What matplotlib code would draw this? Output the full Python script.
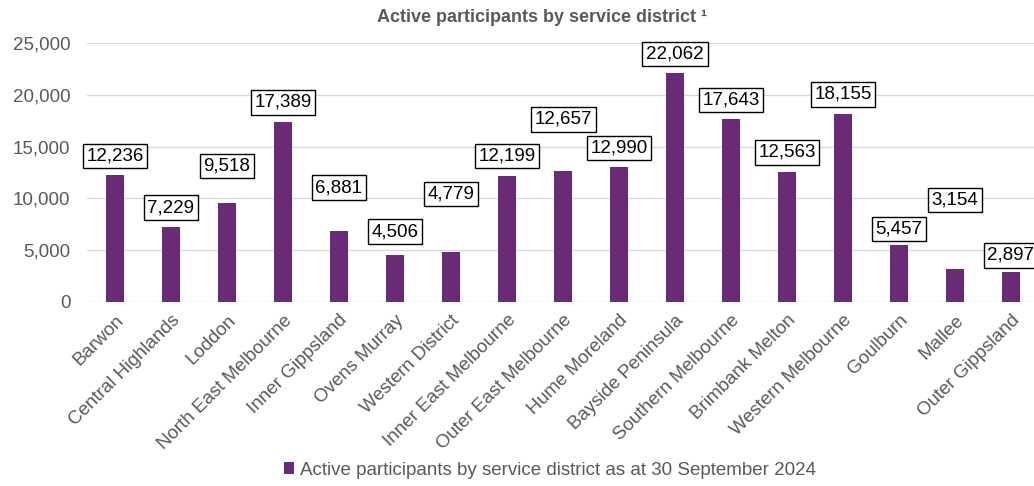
import matplotlib.pyplot as plt
import numpy as np

plt.rcParams['font.family'] = ['Liberation Sans', 'DejaVu Sans']

districts = ['Barwon', 'Central Highlands', 'Loddon', 'North East Melbourne',
             'Inner Gippsland', 'Ovens Murray', 'Western District',
             'Inner East Melbourne', 'Outer East Melbourne', 'Hume Moreland',
             'Bayside Peninsula', 'Southern Melbourne', 'Brimbank Melton',
             'Western Melbourne', 'Goulburn', 'Mallee', 'Outer Gippsland']
participants = [12236, 7229, 9518, 17389, 6881, 4506, 4779, 12199, 12657,
                12990, 22062, 17643, 12563, 18155, 5457, 3154, 2897]

# how far each label box sits above its bar (points), Excel put them unevenly
label_lift = [14, 14, 27, 14, 31, 17, 42, 14, 37, 14, 14, 14, 14, 14, 12, 50, 12]

bar_col = '#692B76'
grey = '#595959'
fs = 13.5

fig = plt.figure(figsize=(10.34, 4.86), dpi=100)
ax = fig.add_axes([87 / 1034, 1 - 302 / 486, 952 / 1034, 259 / 486])

x = np.arange(len(districts))
ax.bar(x, participants, width=0.31, color=bar_col, zorder=2,
       label='Active participants by service district as at 30 September 2024')

for xi, v, lift in zip(x, participants, label_lift):
    ax.annotate(f'{v:,}', (xi, v), xytext=(0, lift), textcoords='offset points',
                ha='center', va='center', fontsize=fs, color='black', zorder=3,
                bbox=dict(boxstyle='square,pad=0.2', fc='white', ec='black', lw=1),
                annotation_clip=False)

ax.set_xlim(-0.5, len(districts) - 0.5)
ax.set_ylim(0, 25000)
ax.set_yticks(np.arange(0, 25001, 5000))
ax.set_yticklabels([f'{t:,}' for t in range(0, 25001, 5000)])
ax.grid(axis='y', color='#D9D9D9', lw=1, zorder=0)
for s in ax.spines.values():
    s.set_visible(False)
ax.tick_params(axis='both', length=0, colors=grey, labelsize=fs)
ax.tick_params(axis='y', pad=12)
ax.tick_params(axis='x', pad=7)
ax.set_xticks(x)
ax.set_xticklabels(districts, rotation=45, ha='right', rotation_mode='anchor')

fig.text(542 / 1034, 1 - 17 / 486, 'Active participants by service district \u00b9',
         ha='center', va='center', fontsize=13, fontweight='bold', color=grey)

fig.legend(loc='center', bbox_to_anchor=(550 / 1034, 1 - 470 / 486), frameon=False,
           fontsize=fs, handlelength=0.55, handleheight=0.55, handletextpad=0.3,
           labelcolor=grey)

fig.savefig('out.png', dpi=100)
